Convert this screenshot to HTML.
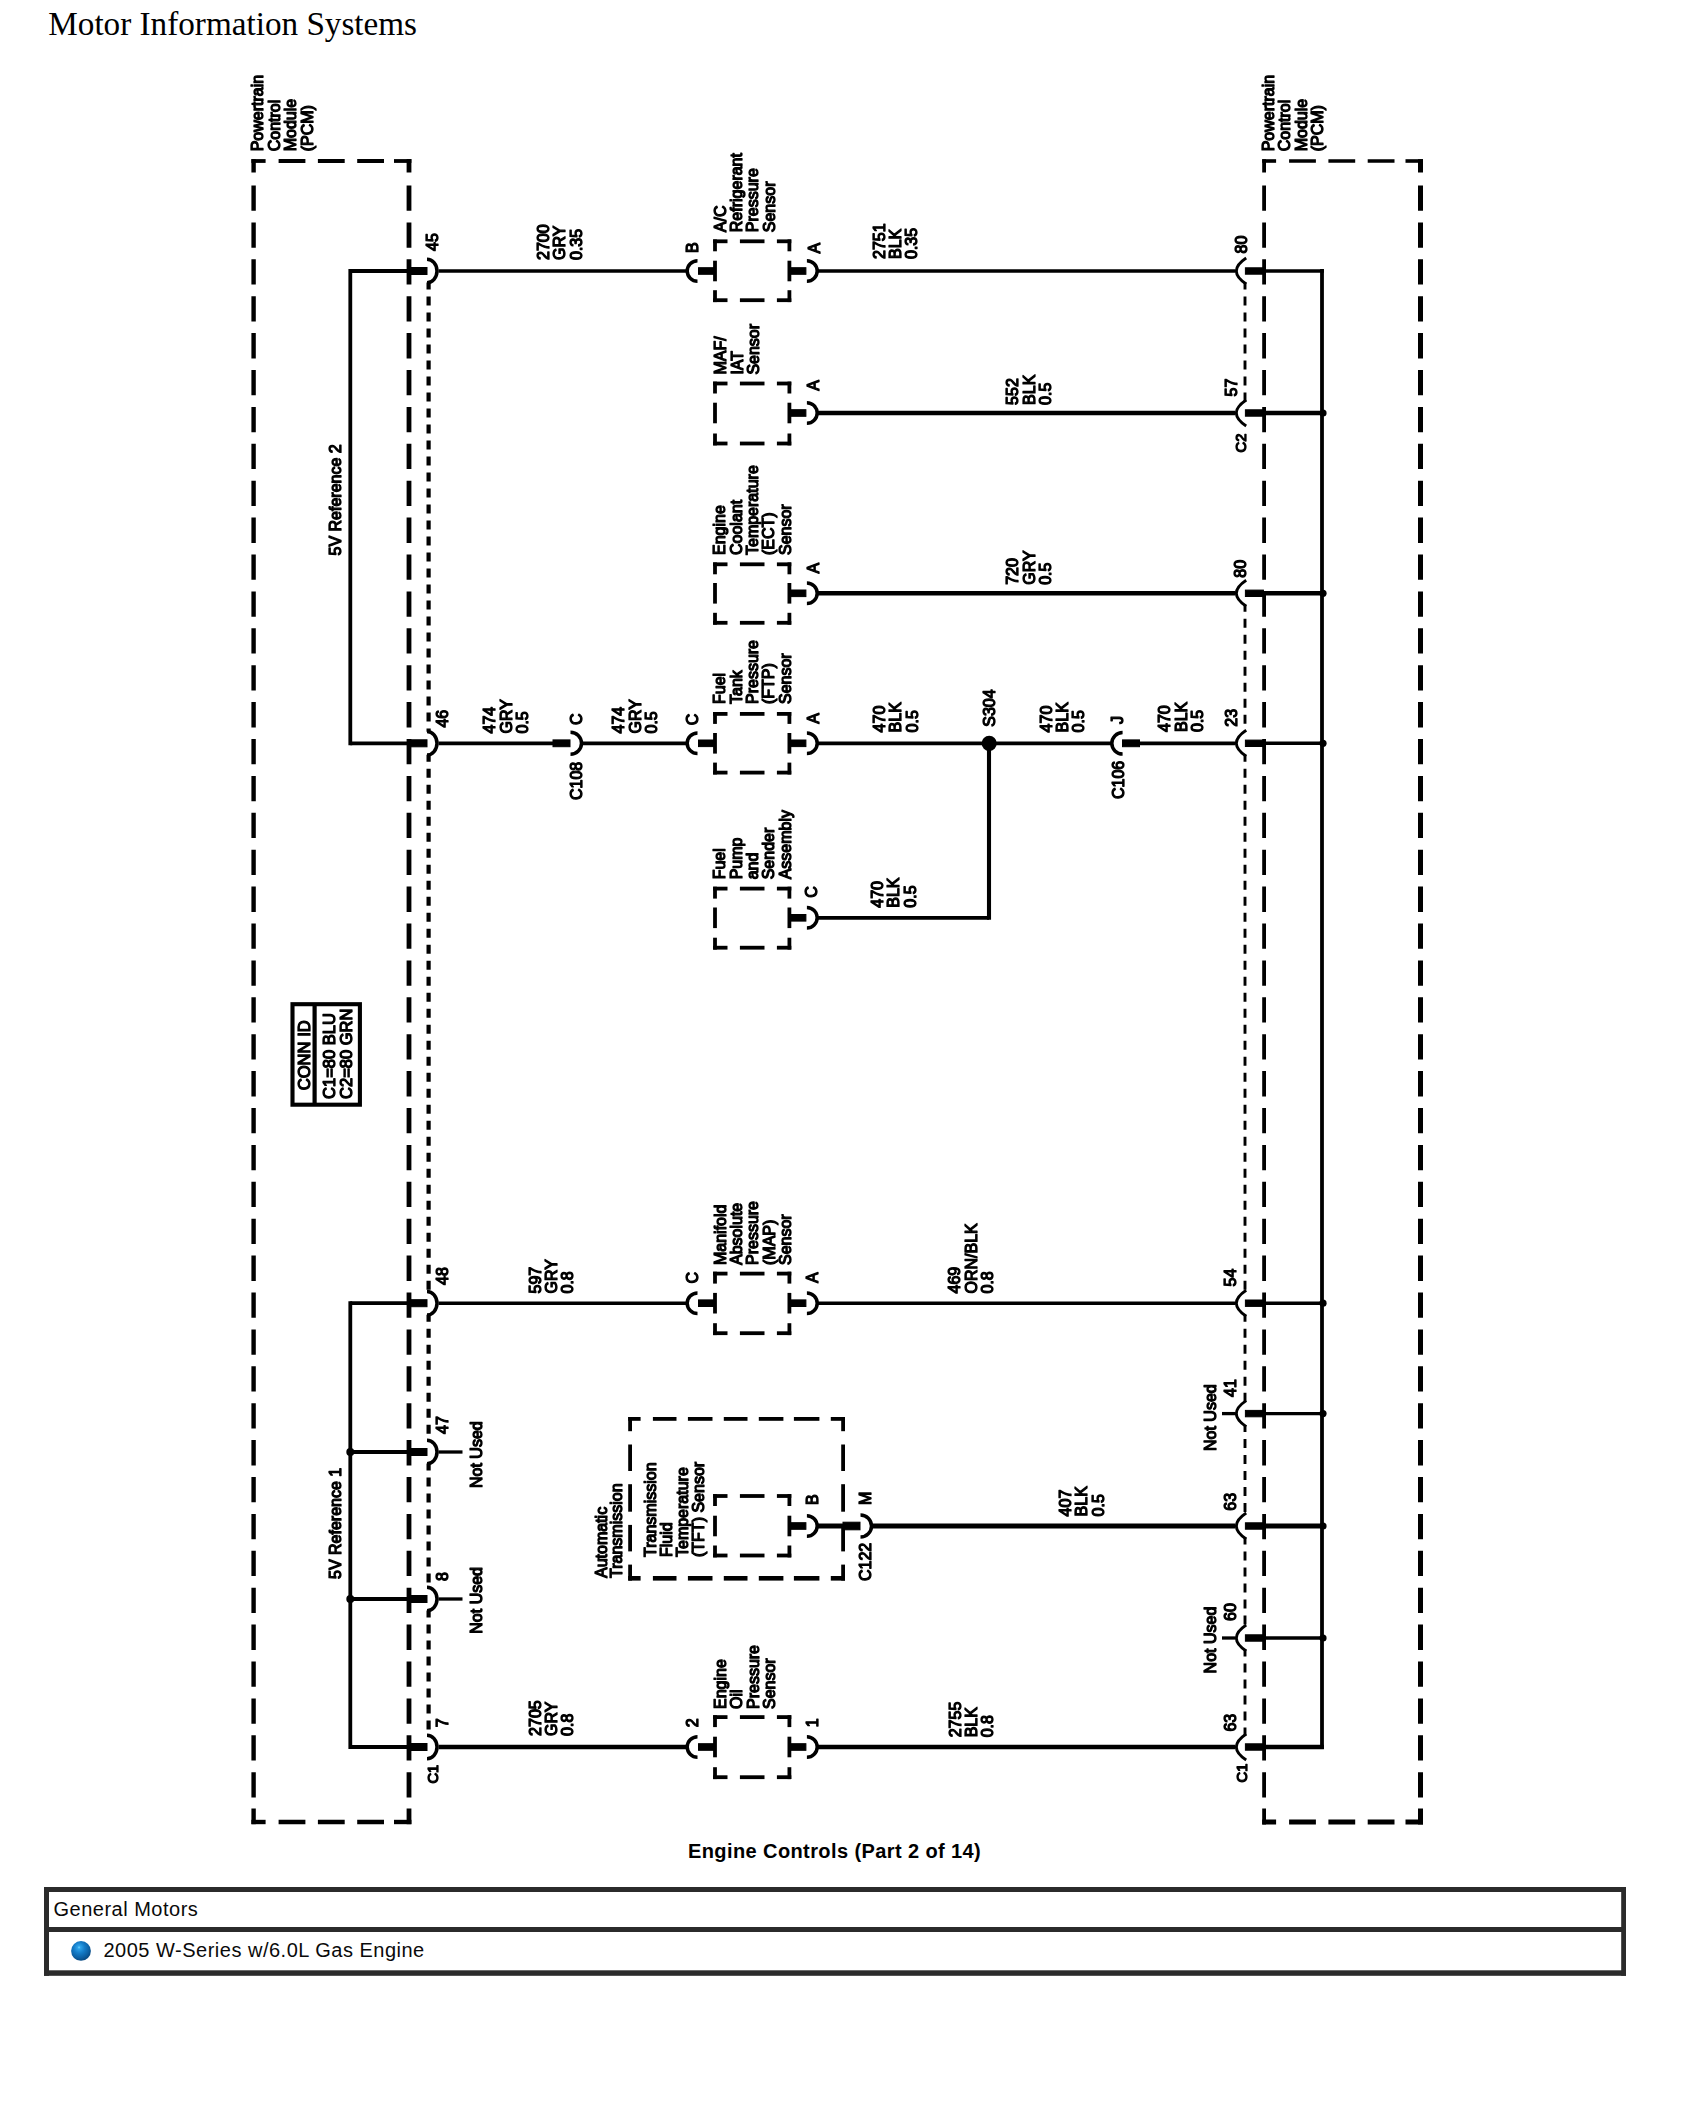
<!DOCTYPE html>
<html><head><meta charset="utf-8"><title>Engine Controls (Part 2 of 14)</title>
<style>
html,body{margin:0;padding:0;background:#fff;}
body{width:1691px;height:2125px;position:relative;overflow:hidden;font-family:"Liberation Sans",sans-serif;color:#000;}
svg{position:absolute;left:0;top:0;}
#dg line,#dg path,#dg rect{stroke:#000;}
#dg{filter:blur(0.45px);}
.t{font-family:"Liberation Sans",sans-serif;fill:#000;stroke:#000;stroke-width:1.25px;stroke-linejoin:round;}
.hd{font-family:"Liberation Serif",serif;font-size:33.2px;fill:#000;stroke:none;}
.cap{font-family:"Liberation Sans",sans-serif;font-weight:bold;font-size:20px;letter-spacing:0.4px;fill:#000;stroke:none;}
.tx{font-family:"Liberation Sans",sans-serif;font-size:20px;letter-spacing:0.5px;fill:#0a0a0a;stroke:none;}
</style></head><body>
<svg width="1691" height="2125" viewBox="0 0 1691 2125" fill="none">
<defs>
<radialGradient id="ball" cx="0.42" cy="0.36" r="0.62" fx="0.40" fy="0.32">
<stop offset="0" stop-color="#6fd6ff"/><stop offset="0.12" stop-color="#2ea3ea"/><stop offset="0.45" stop-color="#147cc8"/><stop offset="0.8" stop-color="#0c60a4"/><stop offset="1" stop-color="#084c86"/>
</radialGradient>
</defs>
<text class="hd" x="48.3" y="34.9">Motor Information Systems</text>
<g id="dg" stroke="#000">
<line x1="251.4" y1="161" x2="265.6" y2="161" stroke-width="3.8" stroke-linecap="butt"/>
<line x1="253.6" y1="159.1" x2="253.6" y2="172.5" stroke-width="4.4" stroke-linecap="butt"/>
<line x1="394" y1="161" x2="411.4" y2="161" stroke-width="3.8" stroke-linecap="butt"/>
<line x1="409" y1="159.1" x2="409" y2="172.5" stroke-width="4.8" stroke-linecap="butt"/>
<line x1="251.4" y1="1822" x2="265.6" y2="1822" stroke-width="4.4" stroke-linecap="butt"/>
<line x1="253.6" y1="1824.2" x2="253.6" y2="1808.5" stroke-width="4.4" stroke-linecap="butt"/>
<line x1="394" y1="1822" x2="411.4" y2="1822" stroke-width="4.4" stroke-linecap="butt"/>
<line x1="409" y1="1824.2" x2="409" y2="1808.5" stroke-width="4.8" stroke-linecap="butt"/>
<line x1="253.6" y1="185.5" x2="253.6" y2="1798" stroke-width="4.4" stroke-dasharray="25.3 11.6" stroke-dashoffset="0" stroke-linecap="butt"/>
<line x1="409" y1="185.5" x2="409" y2="1798" stroke-width="4.8" stroke-dasharray="25.3 11.6" stroke-dashoffset="0" stroke-linecap="butt"/>
<line x1="278.6" y1="161" x2="385" y2="161" stroke-width="3.8" stroke-dasharray="26.8 12.5" stroke-dashoffset="0" stroke-linecap="butt"/>
<line x1="278.6" y1="1822" x2="385" y2="1822" stroke-width="4.4" stroke-dasharray="26.8 12.5" stroke-dashoffset="0" stroke-linecap="butt"/>
<line x1="1262.1999999999998" y1="161" x2="1276.1" y2="161" stroke-width="3.6" stroke-linecap="butt"/>
<line x1="1264.1" y1="159.2" x2="1264.1" y2="172.5" stroke-width="3.8" stroke-linecap="butt"/>
<line x1="1405.5" y1="161" x2="1423.0" y2="161" stroke-width="3.6" stroke-linecap="butt"/>
<line x1="1420.5" y1="159.2" x2="1420.5" y2="172.5" stroke-width="5" stroke-linecap="butt"/>
<line x1="1262.1999999999998" y1="1822" x2="1276.1" y2="1822" stroke-width="5" stroke-linecap="butt"/>
<line x1="1264.1" y1="1824.5" x2="1264.1" y2="1808.5" stroke-width="3.8" stroke-linecap="butt"/>
<line x1="1405.5" y1="1822" x2="1423.0" y2="1822" stroke-width="5" stroke-linecap="butt"/>
<line x1="1420.5" y1="1824.5" x2="1420.5" y2="1808.5" stroke-width="5" stroke-linecap="butt"/>
<line x1="1264.1" y1="185.5" x2="1264.1" y2="1798" stroke-width="3.8" stroke-dasharray="25.3 11.6" stroke-dashoffset="0" stroke-linecap="butt"/>
<line x1="1420.5" y1="185.5" x2="1420.5" y2="1798" stroke-width="5" stroke-dasharray="25.3 11.6" stroke-dashoffset="0" stroke-linecap="butt"/>
<line x1="1289.1" y1="161" x2="1396.5" y2="161" stroke-width="3.6" stroke-dasharray="26.8 12.5" stroke-dashoffset="0" stroke-linecap="butt"/>
<line x1="1289.1" y1="1822" x2="1396.5" y2="1822" stroke-width="5" stroke-dasharray="26.8 12.5" stroke-dashoffset="0" stroke-linecap="butt"/>
<line x1="350.3" y1="269.1" x2="350.3" y2="745.1999999999999" stroke-width="3.8" stroke-linecap="butt"/>
<line x1="350.3" y1="271" x2="411" y2="271" stroke-width="3.8" stroke-linecap="butt"/>
<line x1="350.3" y1="743.3" x2="411" y2="743.3" stroke-width="3.8" stroke-linecap="butt"/>
<line x1="350.3" y1="1301.3" x2="350.3" y2="1748.9" stroke-width="3.8" stroke-linecap="butt"/>
<line x1="350.3" y1="1303.2" x2="411" y2="1303.2" stroke-width="3.8" stroke-linecap="butt"/>
<line x1="350.3" y1="1452" x2="411" y2="1452" stroke-width="3.8" stroke-linecap="butt"/>
<line x1="350.3" y1="1599" x2="411" y2="1599" stroke-width="3.8" stroke-linecap="butt"/>
<line x1="350.3" y1="1747" x2="411" y2="1747" stroke-width="3.8" stroke-linecap="butt"/>
<circle cx="350.3" cy="1452" r="4" fill="#000" stroke="none"/>
<circle cx="350.3" cy="1599" r="4" fill="#000" stroke="none"/>
<line x1="1322" y1="269.1" x2="1322" y2="1748.9" stroke-width="3.8" stroke-linecap="butt"/>
<line x1="1262" y1="271" x2="1323.9" y2="271" stroke-width="3.6" stroke-linecap="butt"/>
<line x1="1262" y1="413" x2="1322" y2="413" stroke-width="4.4" stroke-linecap="butt"/>
<line x1="1262" y1="593.3" x2="1322" y2="593.3" stroke-width="4.4" stroke-linecap="butt"/>
<line x1="1262" y1="743.3" x2="1322" y2="743.3" stroke-width="3.6" stroke-linecap="butt"/>
<line x1="1262" y1="1303.2" x2="1322" y2="1303.2" stroke-width="3.5" stroke-linecap="butt"/>
<line x1="1262" y1="1413.6" x2="1322" y2="1413.6" stroke-width="3.4" stroke-linecap="butt"/>
<line x1="1262" y1="1526" x2="1322" y2="1526" stroke-width="4.8" stroke-linecap="butt"/>
<line x1="1262" y1="1638" x2="1322" y2="1638" stroke-width="3.4" stroke-linecap="butt"/>
<line x1="1262" y1="1747" x2="1323.9" y2="1747" stroke-width="4.6" stroke-linecap="butt"/>
<circle cx="1323" cy="413" r="3.6" fill="#000" stroke="none"/>
<circle cx="1323" cy="593.3" r="3.6" fill="#000" stroke="none"/>
<circle cx="1323" cy="743.3" r="3.6" fill="#000" stroke="none"/>
<circle cx="1323" cy="1303.2" r="3.6" fill="#000" stroke="none"/>
<circle cx="1323" cy="1413.6" r="3.6" fill="#000" stroke="none"/>
<circle cx="1323" cy="1526" r="3.6" fill="#000" stroke="none"/>
<circle cx="1323" cy="1638" r="3.6" fill="#000" stroke="none"/>
<rect x="409" y="267.5" width="18" height="7" fill="#000" stroke="none"/>
<path d="M427,259.2 A10,11.8 0 0 1 427,282.8" stroke-width="3.5" fill="none"/>
<rect x="409" y="739.8" width="18" height="7" fill="#000" stroke="none"/>
<path d="M427,731.5 A10,11.8 0 0 1 427,755.0999999999999" stroke-width="3.5" fill="none"/>
<rect x="409" y="1299.7" width="18" height="7" fill="#000" stroke="none"/>
<path d="M427,1291.4 A10,11.8 0 0 1 427,1315.0" stroke-width="3.5" fill="none"/>
<rect x="409" y="1448.5" width="18" height="7" fill="#000" stroke="none"/>
<path d="M427,1440.2 A10,11.8 0 0 1 427,1463.8" stroke-width="3.5" fill="none"/>
<rect x="409" y="1595.5" width="18" height="7" fill="#000" stroke="none"/>
<path d="M427,1587.2 A10,11.8 0 0 1 427,1610.8" stroke-width="3.5" fill="none"/>
<rect x="409" y="1743.5" width="18" height="7" fill="#000" stroke="none"/>
<path d="M427,1735.2 A10,11.8 0 0 1 427,1758.8" stroke-width="3.5" fill="none"/>
<rect x="1245.4" y="267.8" width="18" height="6.4" fill="#000" stroke="none"/>
<path d="M1246.2,258 Q1226.5,271 1246.2,284" stroke-width="2.9" fill="none"/>
<rect x="1245.4" y="409.8" width="18" height="6.4" fill="#000" stroke="none"/>
<path d="M1246.2,400 Q1226.5,413 1246.2,426" stroke-width="2.9" fill="none"/>
<rect x="1245.4" y="590.0999999999999" width="18" height="6.4" fill="#000" stroke="none"/>
<path d="M1246.2,580.3 Q1226.5,593.3 1246.2,606.3" stroke-width="2.9" fill="none"/>
<rect x="1245.4" y="740.0999999999999" width="18" height="6.4" fill="#000" stroke="none"/>
<path d="M1246.2,730.3 Q1226.5,743.3 1246.2,756.3" stroke-width="2.9" fill="none"/>
<rect x="1245.4" y="1300.0" width="18" height="6.4" fill="#000" stroke="none"/>
<path d="M1246.2,1290.2 Q1226.5,1303.2 1246.2,1316.2" stroke-width="2.9" fill="none"/>
<rect x="1245.4" y="1410.3999999999999" width="18" height="6.4" fill="#000" stroke="none"/>
<path d="M1246.2,1400.6 Q1226.5,1413.6 1246.2,1426.6" stroke-width="2.9" fill="none"/>
<rect x="1245.4" y="1522.8" width="18" height="6.4" fill="#000" stroke="none"/>
<path d="M1246.2,1513 Q1226.5,1526 1246.2,1539" stroke-width="2.9" fill="none"/>
<rect x="1245.4" y="1634.8" width="18" height="6.4" fill="#000" stroke="none"/>
<path d="M1246.2,1625 Q1226.5,1638 1246.2,1651" stroke-width="2.9" fill="none"/>
<rect x="1245.4" y="1743.8" width="18" height="6.4" fill="#000" stroke="none"/>
<path d="M1246.2,1734 Q1226.5,1747 1246.2,1760" stroke-width="2.9" fill="none"/>
<line x1="428.6" y1="282.5" x2="428.6" y2="731.8" stroke-width="4.2" stroke-dasharray="9 7" stroke-dashoffset="2" stroke-linecap="butt"/>
<line x1="428.6" y1="754.8" x2="428.6" y2="1291.7" stroke-width="4.2" stroke-dasharray="9 7" stroke-dashoffset="2" stroke-linecap="butt"/>
<line x1="428.6" y1="1314.7" x2="428.6" y2="1440.5" stroke-width="4.2" stroke-dasharray="9 7" stroke-dashoffset="2" stroke-linecap="butt"/>
<line x1="428.6" y1="1463.5" x2="428.6" y2="1587.5" stroke-width="4.2" stroke-dasharray="9 7" stroke-dashoffset="2" stroke-linecap="butt"/>
<line x1="428.6" y1="1610.5" x2="428.6" y2="1735.5" stroke-width="4.2" stroke-dasharray="9 7" stroke-dashoffset="2" stroke-linecap="butt"/>
<line x1="1245" y1="282.5" x2="1245" y2="401.5" stroke-width="2.9" stroke-dasharray="9 7" stroke-dashoffset="2" stroke-linecap="butt"/>
<line x1="1245" y1="604.8" x2="1245" y2="731.8" stroke-width="2.9" stroke-dasharray="9 7" stroke-dashoffset="2" stroke-linecap="butt"/>
<line x1="1245" y1="754.8" x2="1245" y2="1291.7" stroke-width="2.9" stroke-dasharray="9 7" stroke-dashoffset="2" stroke-linecap="butt"/>
<line x1="1245" y1="1314.7" x2="1245" y2="1402.1" stroke-width="2.9" stroke-dasharray="9 7" stroke-dashoffset="2" stroke-linecap="butt"/>
<line x1="1245" y1="1425.1" x2="1245" y2="1514.5" stroke-width="2.9" stroke-dasharray="9 7" stroke-dashoffset="2" stroke-linecap="butt"/>
<line x1="1245" y1="1537.5" x2="1245" y2="1626.5" stroke-width="2.9" stroke-dasharray="9 7" stroke-dashoffset="2" stroke-linecap="butt"/>
<line x1="1245" y1="1649.5" x2="1245" y2="1735.5" stroke-width="2.9" stroke-dasharray="9 7" stroke-dashoffset="2" stroke-linecap="butt"/>
<line x1="713.1" y1="241.3" x2="727.5" y2="241.3" stroke-width="3.8" stroke-linecap="butt"/>
<line x1="715" y1="239.4" x2="715" y2="251.3" stroke-width="3.8" stroke-linecap="butt"/>
<line x1="713.1" y1="300.2" x2="727.5" y2="300.2" stroke-width="3.8" stroke-linecap="butt"/>
<line x1="715" y1="302.09999999999997" x2="715" y2="290.2" stroke-width="3.8" stroke-linecap="butt"/>
<line x1="791.3" y1="241.3" x2="776.9" y2="241.3" stroke-width="3.8" stroke-linecap="butt"/>
<line x1="789.4" y1="239.4" x2="789.4" y2="251.3" stroke-width="3.8" stroke-linecap="butt"/>
<line x1="791.3" y1="300.2" x2="776.9" y2="300.2" stroke-width="3.8" stroke-linecap="butt"/>
<line x1="789.4" y1="302.09999999999997" x2="789.4" y2="290.2" stroke-width="3.8" stroke-linecap="butt"/>
<line x1="739.9000000000001" y1="241.3" x2="764.5" y2="241.3" stroke-width="3.8" stroke-linecap="butt"/>
<line x1="739.9000000000001" y1="300.2" x2="764.5" y2="300.2" stroke-width="3.8" stroke-linecap="butt"/>
<line x1="715" y1="260.7" x2="715" y2="281.3" stroke-width="3.8" stroke-linecap="butt"/>
<rect x="698.5" y="267.7" width="16.5" height="6.6" fill="#000" stroke="none"/>
<path d="M697.5,260.7 A10.3,10.3 0 0 0 697.5,281.3" stroke-width="3.5" fill="none"/>
<line x1="789.4" y1="260.7" x2="789.4" y2="281.3" stroke-width="3.8" stroke-linecap="butt"/>
<rect x="789.4" y="267.7" width="16.5" height="6.6" fill="#000" stroke="none"/>
<path d="M806.9,260.7 A10.3,10.3 0 0 1 806.9,281.3" stroke-width="3.5" fill="none"/>
<line x1="713.1" y1="383.5" x2="727.5" y2="383.5" stroke-width="3.8" stroke-linecap="butt"/>
<line x1="715" y1="381.6" x2="715" y2="393.5" stroke-width="3.8" stroke-linecap="butt"/>
<line x1="713.1" y1="443.5" x2="727.5" y2="443.5" stroke-width="3.8" stroke-linecap="butt"/>
<line x1="715" y1="445.4" x2="715" y2="433.5" stroke-width="3.8" stroke-linecap="butt"/>
<line x1="791.3" y1="383.5" x2="776.9" y2="383.5" stroke-width="3.8" stroke-linecap="butt"/>
<line x1="789.4" y1="381.6" x2="789.4" y2="393.5" stroke-width="3.8" stroke-linecap="butt"/>
<line x1="791.3" y1="443.5" x2="776.9" y2="443.5" stroke-width="3.8" stroke-linecap="butt"/>
<line x1="789.4" y1="445.4" x2="789.4" y2="433.5" stroke-width="3.8" stroke-linecap="butt"/>
<line x1="739.9000000000001" y1="383.5" x2="764.5" y2="383.5" stroke-width="3.8" stroke-linecap="butt"/>
<line x1="739.9000000000001" y1="443.5" x2="764.5" y2="443.5" stroke-width="3.8" stroke-linecap="butt"/>
<line x1="715" y1="402.7" x2="715" y2="423.3" stroke-width="3.8" stroke-linecap="butt"/>
<line x1="789.4" y1="402.7" x2="789.4" y2="423.3" stroke-width="3.8" stroke-linecap="butt"/>
<rect x="789.4" y="409.7" width="16.5" height="6.6" fill="#000" stroke="none"/>
<path d="M806.9,402.7 A10.3,10.3 0 0 1 806.9,423.3" stroke-width="3.5" fill="none"/>
<line x1="713.1" y1="564.3" x2="727.5" y2="564.3" stroke-width="3.8" stroke-linecap="butt"/>
<line x1="715" y1="562.4" x2="715" y2="574.3" stroke-width="3.8" stroke-linecap="butt"/>
<line x1="713.1" y1="622.8" x2="727.5" y2="622.8" stroke-width="3.8" stroke-linecap="butt"/>
<line x1="715" y1="624.6999999999999" x2="715" y2="612.8" stroke-width="3.8" stroke-linecap="butt"/>
<line x1="791.3" y1="564.3" x2="776.9" y2="564.3" stroke-width="3.8" stroke-linecap="butt"/>
<line x1="789.4" y1="562.4" x2="789.4" y2="574.3" stroke-width="3.8" stroke-linecap="butt"/>
<line x1="791.3" y1="622.8" x2="776.9" y2="622.8" stroke-width="3.8" stroke-linecap="butt"/>
<line x1="789.4" y1="624.6999999999999" x2="789.4" y2="612.8" stroke-width="3.8" stroke-linecap="butt"/>
<line x1="739.9000000000001" y1="564.3" x2="764.5" y2="564.3" stroke-width="3.8" stroke-linecap="butt"/>
<line x1="739.9000000000001" y1="622.8" x2="764.5" y2="622.8" stroke-width="3.8" stroke-linecap="butt"/>
<line x1="715" y1="583.0" x2="715" y2="603.5999999999999" stroke-width="3.8" stroke-linecap="butt"/>
<line x1="789.4" y1="583.0" x2="789.4" y2="603.5999999999999" stroke-width="3.8" stroke-linecap="butt"/>
<rect x="789.4" y="590.0" width="16.5" height="6.6" fill="#000" stroke="none"/>
<path d="M806.9,583.0 A10.3,10.3 0 0 1 806.9,603.5999999999999" stroke-width="3.5" fill="none"/>
<line x1="713.1" y1="713.9" x2="727.5" y2="713.9" stroke-width="3.8" stroke-linecap="butt"/>
<line x1="715" y1="712.0" x2="715" y2="723.9" stroke-width="3.8" stroke-linecap="butt"/>
<line x1="713.1" y1="772.6" x2="727.5" y2="772.6" stroke-width="3.8" stroke-linecap="butt"/>
<line x1="715" y1="774.5" x2="715" y2="762.6" stroke-width="3.8" stroke-linecap="butt"/>
<line x1="791.3" y1="713.9" x2="776.9" y2="713.9" stroke-width="3.8" stroke-linecap="butt"/>
<line x1="789.4" y1="712.0" x2="789.4" y2="723.9" stroke-width="3.8" stroke-linecap="butt"/>
<line x1="791.3" y1="772.6" x2="776.9" y2="772.6" stroke-width="3.8" stroke-linecap="butt"/>
<line x1="789.4" y1="774.5" x2="789.4" y2="762.6" stroke-width="3.8" stroke-linecap="butt"/>
<line x1="739.9000000000001" y1="713.9" x2="764.5" y2="713.9" stroke-width="3.8" stroke-linecap="butt"/>
<line x1="739.9000000000001" y1="772.6" x2="764.5" y2="772.6" stroke-width="3.8" stroke-linecap="butt"/>
<line x1="715" y1="733.0" x2="715" y2="753.5999999999999" stroke-width="3.8" stroke-linecap="butt"/>
<rect x="698.5" y="740.0" width="16.5" height="6.6" fill="#000" stroke="none"/>
<path d="M697.5,733.0 A10.3,10.3 0 0 0 697.5,753.5999999999999" stroke-width="3.5" fill="none"/>
<line x1="789.4" y1="733.0" x2="789.4" y2="753.5999999999999" stroke-width="3.8" stroke-linecap="butt"/>
<rect x="789.4" y="740.0" width="16.5" height="6.6" fill="#000" stroke="none"/>
<path d="M806.9,733.0 A10.3,10.3 0 0 1 806.9,753.5999999999999" stroke-width="3.5" fill="none"/>
<line x1="713.1" y1="888.6" x2="727.5" y2="888.6" stroke-width="3.8" stroke-linecap="butt"/>
<line x1="715" y1="886.7" x2="715" y2="898.6" stroke-width="3.8" stroke-linecap="butt"/>
<line x1="713.1" y1="947.7" x2="727.5" y2="947.7" stroke-width="3.8" stroke-linecap="butt"/>
<line x1="715" y1="949.6" x2="715" y2="937.7" stroke-width="3.8" stroke-linecap="butt"/>
<line x1="791.3" y1="888.6" x2="776.9" y2="888.6" stroke-width="3.8" stroke-linecap="butt"/>
<line x1="789.4" y1="886.7" x2="789.4" y2="898.6" stroke-width="3.8" stroke-linecap="butt"/>
<line x1="791.3" y1="947.7" x2="776.9" y2="947.7" stroke-width="3.8" stroke-linecap="butt"/>
<line x1="789.4" y1="949.6" x2="789.4" y2="937.7" stroke-width="3.8" stroke-linecap="butt"/>
<line x1="739.9000000000001" y1="888.6" x2="764.5" y2="888.6" stroke-width="3.8" stroke-linecap="butt"/>
<line x1="739.9000000000001" y1="947.7" x2="764.5" y2="947.7" stroke-width="3.8" stroke-linecap="butt"/>
<line x1="715" y1="907.5" x2="715" y2="928.0999999999999" stroke-width="3.8" stroke-linecap="butt"/>
<line x1="789.4" y1="907.5" x2="789.4" y2="928.0999999999999" stroke-width="3.8" stroke-linecap="butt"/>
<rect x="789.4" y="914.5" width="16.5" height="6.6" fill="#000" stroke="none"/>
<path d="M806.9,907.5 A10.3,10.3 0 0 1 806.9,928.0999999999999" stroke-width="3.5" fill="none"/>
<line x1="713.1" y1="1273.6" x2="727.5" y2="1273.6" stroke-width="3.8" stroke-linecap="butt"/>
<line x1="715" y1="1271.6999999999998" x2="715" y2="1283.6" stroke-width="3.8" stroke-linecap="butt"/>
<line x1="713.1" y1="1333.2" x2="727.5" y2="1333.2" stroke-width="3.8" stroke-linecap="butt"/>
<line x1="715" y1="1335.1000000000001" x2="715" y2="1323.2" stroke-width="3.8" stroke-linecap="butt"/>
<line x1="791.3" y1="1273.6" x2="776.9" y2="1273.6" stroke-width="3.8" stroke-linecap="butt"/>
<line x1="789.4" y1="1271.6999999999998" x2="789.4" y2="1283.6" stroke-width="3.8" stroke-linecap="butt"/>
<line x1="791.3" y1="1333.2" x2="776.9" y2="1333.2" stroke-width="3.8" stroke-linecap="butt"/>
<line x1="789.4" y1="1335.1000000000001" x2="789.4" y2="1323.2" stroke-width="3.8" stroke-linecap="butt"/>
<line x1="739.9000000000001" y1="1273.6" x2="764.5" y2="1273.6" stroke-width="3.8" stroke-linecap="butt"/>
<line x1="739.9000000000001" y1="1333.2" x2="764.5" y2="1333.2" stroke-width="3.8" stroke-linecap="butt"/>
<line x1="715" y1="1292.9" x2="715" y2="1313.5" stroke-width="3.8" stroke-linecap="butt"/>
<rect x="698.5" y="1299.9" width="16.5" height="6.6" fill="#000" stroke="none"/>
<path d="M697.5,1292.9 A10.3,10.3 0 0 0 697.5,1313.5" stroke-width="3.5" fill="none"/>
<line x1="789.4" y1="1292.9" x2="789.4" y2="1313.5" stroke-width="3.8" stroke-linecap="butt"/>
<rect x="789.4" y="1299.9" width="16.5" height="6.6" fill="#000" stroke="none"/>
<path d="M806.9,1292.9 A10.3,10.3 0 0 1 806.9,1313.5" stroke-width="3.5" fill="none"/>
<line x1="713.1" y1="1496" x2="727.5" y2="1496" stroke-width="3.8" stroke-linecap="butt"/>
<line x1="715" y1="1494.1" x2="715" y2="1506.0" stroke-width="3.8" stroke-linecap="butt"/>
<line x1="713.1" y1="1555.5" x2="727.5" y2="1555.5" stroke-width="3.8" stroke-linecap="butt"/>
<line x1="715" y1="1557.4" x2="715" y2="1545.5" stroke-width="3.8" stroke-linecap="butt"/>
<line x1="791.3" y1="1496" x2="776.9" y2="1496" stroke-width="3.8" stroke-linecap="butt"/>
<line x1="789.4" y1="1494.1" x2="789.4" y2="1506.0" stroke-width="3.8" stroke-linecap="butt"/>
<line x1="791.3" y1="1555.5" x2="776.9" y2="1555.5" stroke-width="3.8" stroke-linecap="butt"/>
<line x1="789.4" y1="1557.4" x2="789.4" y2="1545.5" stroke-width="3.8" stroke-linecap="butt"/>
<line x1="739.9000000000001" y1="1496" x2="764.5" y2="1496" stroke-width="3.8" stroke-linecap="butt"/>
<line x1="739.9000000000001" y1="1555.5" x2="764.5" y2="1555.5" stroke-width="3.8" stroke-linecap="butt"/>
<line x1="715" y1="1515.7" x2="715" y2="1536.3" stroke-width="3.8" stroke-linecap="butt"/>
<line x1="789.4" y1="1515.7" x2="789.4" y2="1536.3" stroke-width="3.8" stroke-linecap="butt"/>
<rect x="789.4" y="1522.7" width="16.5" height="6.6" fill="#000" stroke="none"/>
<path d="M806.9,1515.7 A10.3,10.3 0 0 1 806.9,1536.3" stroke-width="3.5" fill="none"/>
<line x1="713.1" y1="1717.1" x2="727.5" y2="1717.1" stroke-width="3.8" stroke-linecap="butt"/>
<line x1="715" y1="1715.1999999999998" x2="715" y2="1727.1" stroke-width="3.8" stroke-linecap="butt"/>
<line x1="713.1" y1="1777.2" x2="727.5" y2="1777.2" stroke-width="3.8" stroke-linecap="butt"/>
<line x1="715" y1="1779.1000000000001" x2="715" y2="1767.2" stroke-width="3.8" stroke-linecap="butt"/>
<line x1="791.3" y1="1717.1" x2="776.9" y2="1717.1" stroke-width="3.8" stroke-linecap="butt"/>
<line x1="789.4" y1="1715.1999999999998" x2="789.4" y2="1727.1" stroke-width="3.8" stroke-linecap="butt"/>
<line x1="791.3" y1="1777.2" x2="776.9" y2="1777.2" stroke-width="3.8" stroke-linecap="butt"/>
<line x1="789.4" y1="1779.1000000000001" x2="789.4" y2="1767.2" stroke-width="3.8" stroke-linecap="butt"/>
<line x1="739.9000000000001" y1="1717.1" x2="764.5" y2="1717.1" stroke-width="3.8" stroke-linecap="butt"/>
<line x1="739.9000000000001" y1="1777.2" x2="764.5" y2="1777.2" stroke-width="3.8" stroke-linecap="butt"/>
<line x1="715" y1="1736.7" x2="715" y2="1757.3" stroke-width="3.8" stroke-linecap="butt"/>
<rect x="698.5" y="1743.7" width="16.5" height="6.6" fill="#000" stroke="none"/>
<path d="M697.5,1736.7 A10.3,10.3 0 0 0 697.5,1757.3" stroke-width="3.5" fill="none"/>
<line x1="789.4" y1="1736.7" x2="789.4" y2="1757.3" stroke-width="3.8" stroke-linecap="butt"/>
<rect x="789.4" y="1743.7" width="16.5" height="6.6" fill="#000" stroke="none"/>
<path d="M806.9,1736.7 A10.3,10.3 0 0 1 806.9,1757.3" stroke-width="3.5" fill="none"/>
<line x1="628.2" y1="1418.9" x2="640.6" y2="1418.9" stroke-width="3.8" stroke-linecap="butt"/>
<line x1="830.8" y1="1418.9" x2="845.0" y2="1418.9" stroke-width="3.8" stroke-linecap="butt"/>
<line x1="628.2" y1="1578.3" x2="640.6" y2="1578.3" stroke-width="4.6" stroke-linecap="butt"/>
<line x1="830.8" y1="1578.3" x2="845.0" y2="1578.3" stroke-width="4.6" stroke-linecap="butt"/>
<line x1="630.1" y1="1417.0" x2="630.1" y2="1431.2" stroke-width="3.8" stroke-linecap="butt"/>
<line x1="630.1" y1="1564.6" x2="630.1" y2="1580.6" stroke-width="3.8" stroke-linecap="butt"/>
<line x1="630.1" y1="1444.5" x2="630.1" y2="1471" stroke-width="3.8" stroke-linecap="butt"/>
<line x1="630.1" y1="1484.2" x2="630.1" y2="1511.7" stroke-width="3.8" stroke-linecap="butt"/>
<line x1="630.1" y1="1524.9" x2="630.1" y2="1551.4" stroke-width="3.8" stroke-linecap="butt"/>
<line x1="843.1" y1="1417.0" x2="843.1" y2="1431.2" stroke-width="3.8" stroke-linecap="butt"/>
<line x1="843.1" y1="1564.6" x2="843.1" y2="1580.6" stroke-width="3.8" stroke-linecap="butt"/>
<line x1="843.1" y1="1444.5" x2="843.1" y2="1471" stroke-width="3.8" stroke-linecap="butt"/>
<line x1="843.1" y1="1484.2" x2="843.1" y2="1511.7" stroke-width="3.8" stroke-linecap="butt"/>
<line x1="843.1" y1="1524.9" x2="843.1" y2="1551.4" stroke-width="3.8" stroke-linecap="butt"/>
<line x1="652.9" y1="1418.9" x2="676.5" y2="1418.9" stroke-width="3.8" stroke-linecap="butt"/>
<line x1="652.9" y1="1578.3" x2="676.5" y2="1578.3" stroke-width="4.6" stroke-linecap="butt"/>
<line x1="687.9" y1="1418.9" x2="712.5" y2="1418.9" stroke-width="3.8" stroke-linecap="butt"/>
<line x1="687.9" y1="1578.3" x2="712.5" y2="1578.3" stroke-width="4.6" stroke-linecap="butt"/>
<line x1="723.8" y1="1418.9" x2="747.5" y2="1418.9" stroke-width="3.8" stroke-linecap="butt"/>
<line x1="723.8" y1="1578.3" x2="747.5" y2="1578.3" stroke-width="4.6" stroke-linecap="butt"/>
<line x1="758.8" y1="1418.9" x2="783.4" y2="1418.9" stroke-width="3.8" stroke-linecap="butt"/>
<line x1="758.8" y1="1578.3" x2="783.4" y2="1578.3" stroke-width="4.6" stroke-linecap="butt"/>
<line x1="793.9" y1="1418.9" x2="819.4" y2="1418.9" stroke-width="3.8" stroke-linecap="butt"/>
<line x1="793.9" y1="1578.3" x2="819.4" y2="1578.3" stroke-width="4.6" stroke-linecap="butt"/>
<line x1="438.5" y1="271" x2="686.3" y2="271" stroke-width="3.6" stroke-linecap="butt"/>
<line x1="818" y1="271" x2="1235.5" y2="271" stroke-width="3.6" stroke-linecap="butt"/>
<line x1="818" y1="413" x2="1235.5" y2="413" stroke-width="4.4" stroke-linecap="butt"/>
<line x1="818" y1="593.3" x2="1235.5" y2="593.3" stroke-width="4.4" stroke-linecap="butt"/>
<line x1="438.5" y1="743.3" x2="553" y2="743.3" stroke-width="3.8" stroke-linecap="butt"/>
<rect x="553" y="739.9" width="17" height="6.8" fill="#000" stroke="none"/>
<path d="M570.5,732.3 A11,11 0 0 1 570.5,754.3" stroke-width="3.5" fill="none"/>
<line x1="581.5" y1="743.3" x2="686.3" y2="743.3" stroke-width="3.8" stroke-linecap="butt"/>
<line x1="818" y1="743.3" x2="1111.5" y2="743.3" stroke-width="3.8" stroke-linecap="butt"/>
<path d="M1122.6,732.5 A10.8,10.8 0 0 0 1122.6,754.0999999999999" stroke-width="3.5" fill="none"/>
<rect x="1122.5" y="739.9" width="17" height="6.8" fill="#000" stroke="none"/>
<line x1="1139" y1="743.3" x2="1235.5" y2="743.3" stroke-width="3.8" stroke-linecap="butt"/>
<circle cx="989.2" cy="743.3" r="7.6" fill="#000" stroke="none"/>
<line x1="989" y1="743.3" x2="989" y2="919.6999999999999" stroke-width="4.1" stroke-linecap="butt"/>
<line x1="818" y1="917.8" x2="989" y2="917.8" stroke-width="3.7" stroke-linecap="butt"/>
<line x1="438.5" y1="1303.2" x2="686.3" y2="1303.2" stroke-width="3.5" stroke-linecap="butt"/>
<line x1="818" y1="1303.2" x2="1235.5" y2="1303.2" stroke-width="3.5" stroke-linecap="butt"/>
<line x1="438.5" y1="1452" x2="462.5" y2="1452" stroke-width="3.3" stroke-linecap="butt"/>
<line x1="438.5" y1="1599" x2="462.5" y2="1599" stroke-width="3.3" stroke-linecap="butt"/>
<line x1="1222" y1="1413.6" x2="1235.5" y2="1413.6" stroke-width="3.3" stroke-linecap="butt"/>
<line x1="1222" y1="1638" x2="1235.5" y2="1638" stroke-width="3.3" stroke-linecap="butt"/>
<line x1="818" y1="1526" x2="845" y2="1526" stroke-width="5" stroke-linecap="butt"/>
<rect x="843" y="1522.2" width="17" height="7.6" fill="#000" stroke="none"/>
<path d="M860.5,1515 A11,11 0 0 1 860.5,1537" stroke-width="3.5" fill="none"/>
<line x1="870.5" y1="1526" x2="1235.5" y2="1526" stroke-width="4.8" stroke-linecap="butt"/>
<line x1="438.5" y1="1747" x2="686.3" y2="1747" stroke-width="4.5" stroke-linecap="butt"/>
<line x1="818" y1="1747" x2="1235.5" y2="1747" stroke-width="4.6" stroke-linecap="butt"/>
<rect x="292.5" y="1004.2" width="67.4" height="100.5" fill="none" stroke-width="4.1"/>
<line x1="314.6" y1="1004.2" x2="314.6" y2="1104.7" stroke-width="4.2" stroke-linecap="butt"/>
<text class="t" transform="translate(263.3,151.3) rotate(-90)" font-size="16.0">Powertrain</text>
<text class="t" transform="translate(279.7,151.3) rotate(-90)" font-size="16.0">Control</text>
<text class="t" transform="translate(296.1,151.3) rotate(-90)" font-size="16.0">Module</text>
<text class="t" transform="translate(312.5,151.3) rotate(-90)" font-size="16.0">(PCM)</text>
<text class="t" transform="translate(1273.8,151.3) rotate(-90)" font-size="16.0">Powertrain</text>
<text class="t" transform="translate(1290.2,151.3) rotate(-90)" font-size="16.0">Control</text>
<text class="t" transform="translate(1306.6,151.3) rotate(-90)" font-size="16.0">Module</text>
<text class="t" transform="translate(1323.0,151.3) rotate(-90)" font-size="16.0">(PCM)</text>
<text class="t" transform="translate(438.2,251.0) rotate(-90)" font-size="16.0">45</text>
<text class="t" transform="translate(448.2,727.6) rotate(-90)" font-size="16.0">46</text>
<text class="t" transform="translate(448.4,1285.0) rotate(-90)" font-size="16.0">48</text>
<text class="t" transform="translate(448.2,1434.0) rotate(-90)" font-size="16.0">47</text>
<text class="t" transform="translate(448.2,1581.0) rotate(-90)" font-size="16.0">8</text>
<text class="t" transform="translate(448.2,1727.3) rotate(-90)" font-size="16.0">7</text>
<text class="t" transform="translate(438.2,1783.6) rotate(-90)" font-size="14.8">C1</text>
<text class="t" transform="translate(482.0,1488.0) rotate(-90)" font-size="16.0">Not Used</text>
<text class="t" transform="translate(482.0,1633.7) rotate(-90)" font-size="16.0">Not Used</text>
<text class="t" transform="translate(1246.6,253.5) rotate(-90)" font-size="16.0">80</text>
<text class="t" transform="translate(1237.0,396.4) rotate(-90)" font-size="16.0">57</text>
<text class="t" transform="translate(1246.4,452.4) rotate(-90)" font-size="14.8">C2</text>
<text class="t" transform="translate(1246.4,577.7) rotate(-90)" font-size="16.0">80</text>
<text class="t" transform="translate(1237.0,726.7) rotate(-90)" font-size="16.0">23</text>
<text class="t" transform="translate(1235.6,1286.4) rotate(-90)" font-size="16.0">54</text>
<text class="t" transform="translate(1235.6,1397.0) rotate(-90)" font-size="16.0">41</text>
<text class="t" transform="translate(1215.7,1451.0) rotate(-90)" font-size="16.0">Not Used</text>
<text class="t" transform="translate(1235.6,1510.7) rotate(-90)" font-size="16.0">63</text>
<text class="t" transform="translate(1235.6,1621.0) rotate(-90)" font-size="16.0">60</text>
<text class="t" transform="translate(1215.7,1673.4) rotate(-90)" font-size="16.0">Not Used</text>
<text class="t" transform="translate(1235.6,1731.6) rotate(-90)" font-size="16.0">63</text>
<text class="t" transform="translate(1246.6,1782.5) rotate(-90)" font-size="14.8">C1</text>
<text class="t" transform="translate(549.0,260.0) rotate(-90)" font-size="16.0">2700</text>
<text class="t" transform="translate(565.4,260.0) rotate(-90)" font-size="16.0">GRY</text>
<text class="t" transform="translate(581.8,260.0) rotate(-90)" font-size="16.0">0.35</text>
<text class="t" transform="translate(884.5,259.0) rotate(-90)" font-size="16.0">2751</text>
<text class="t" transform="translate(900.9,259.0) rotate(-90)" font-size="16.0">BLK</text>
<text class="t" transform="translate(917.3,259.0) rotate(-90)" font-size="16.0">0.35</text>
<text class="t" transform="translate(1018.4,404.9) rotate(-90)" font-size="16.0">552</text>
<text class="t" transform="translate(1034.8,404.9) rotate(-90)" font-size="16.0">BLK</text>
<text class="t" transform="translate(1051.2,404.9) rotate(-90)" font-size="16.0">0.5</text>
<text class="t" transform="translate(1018.4,584.8) rotate(-90)" font-size="16.0">720</text>
<text class="t" transform="translate(1034.8,584.8) rotate(-90)" font-size="16.0">GRY</text>
<text class="t" transform="translate(1051.2,584.8) rotate(-90)" font-size="16.0">0.5</text>
<text class="t" transform="translate(495.2,733.5) rotate(-90)" font-size="16.0">474</text>
<text class="t" transform="translate(511.6,733.5) rotate(-90)" font-size="16.0">GRY</text>
<text class="t" transform="translate(528.0,733.5) rotate(-90)" font-size="16.0">0.5</text>
<text class="t" transform="translate(581.8,725.0) rotate(-90)" font-size="16.0">C</text>
<text class="t" transform="translate(581.8,800.0) rotate(-90)" font-size="16.0">C108</text>
<text class="t" transform="translate(624.4,733.5) rotate(-90)" font-size="16.0">474</text>
<text class="t" transform="translate(640.8,733.5) rotate(-90)" font-size="16.0">GRY</text>
<text class="t" transform="translate(657.2,733.5) rotate(-90)" font-size="16.0">0.5</text>
<text class="t" transform="translate(884.7,732.4) rotate(-90)" font-size="16.0">470</text>
<text class="t" transform="translate(901.1,732.4) rotate(-90)" font-size="16.0">BLK</text>
<text class="t" transform="translate(917.5,732.4) rotate(-90)" font-size="16.0">0.5</text>
<text class="t" transform="translate(994.8,726.7) rotate(-90)" font-size="16.0">S304</text>
<text class="t" transform="translate(1051.6,732.4) rotate(-90)" font-size="16.0">470</text>
<text class="t" transform="translate(1068.0,732.4) rotate(-90)" font-size="16.0">BLK</text>
<text class="t" transform="translate(1084.4,732.4) rotate(-90)" font-size="16.0">0.5</text>
<text class="t" transform="translate(1122.6,723.9) rotate(-90)" font-size="16.0">J</text>
<text class="t" transform="translate(1123.5,799.0) rotate(-90)" font-size="16.0">C106</text>
<text class="t" transform="translate(1170.3,732.0) rotate(-90)" font-size="16.0">470</text>
<text class="t" transform="translate(1186.7,732.0) rotate(-90)" font-size="16.0">BLK</text>
<text class="t" transform="translate(1203.1,732.0) rotate(-90)" font-size="16.0">0.5</text>
<text class="t" transform="translate(882.7,907.7) rotate(-90)" font-size="16.0">470</text>
<text class="t" transform="translate(899.1,907.7) rotate(-90)" font-size="16.0">BLK</text>
<text class="t" transform="translate(915.5,907.7) rotate(-90)" font-size="16.0">0.5</text>
<text class="t" transform="translate(540.6,1293.5) rotate(-90)" font-size="16.0">597</text>
<text class="t" transform="translate(557.0,1293.5) rotate(-90)" font-size="16.0">GRY</text>
<text class="t" transform="translate(573.4,1293.5) rotate(-90)" font-size="16.0">0.8</text>
<text class="t" transform="translate(960.2,1293.5) rotate(-90)" font-size="16.0">469</text>
<text class="t" transform="translate(976.6,1293.5) rotate(-90)" font-size="16.0">ORN/BLK</text>
<text class="t" transform="translate(993.0,1293.5) rotate(-90)" font-size="16.0">0.8</text>
<text class="t" transform="translate(1071.0,1516.4) rotate(-90)" font-size="16.0">407</text>
<text class="t" transform="translate(1087.4,1516.4) rotate(-90)" font-size="16.0">BLK</text>
<text class="t" transform="translate(1103.8,1516.4) rotate(-90)" font-size="16.0">0.5</text>
<text class="t" transform="translate(870.8,1505.0) rotate(-90)" font-size="16.0">M</text>
<text class="t" transform="translate(871.0,1581.0) rotate(-90)" font-size="16.0">C122</text>
<text class="t" transform="translate(540.6,1735.9) rotate(-90)" font-size="16.0">2705</text>
<text class="t" transform="translate(557.0,1735.9) rotate(-90)" font-size="16.0">GRY</text>
<text class="t" transform="translate(573.4,1735.9) rotate(-90)" font-size="16.0">0.8</text>
<text class="t" transform="translate(960.5,1737.3) rotate(-90)" font-size="16.0">2755</text>
<text class="t" transform="translate(976.9,1737.3) rotate(-90)" font-size="16.0">BLK</text>
<text class="t" transform="translate(993.3,1737.3) rotate(-90)" font-size="16.0">0.8</text>
<text class="t" transform="translate(698.0,253.0) rotate(-90)" font-size="16.0">B</text>
<text class="t" transform="translate(819.5,253.6) rotate(-90)" font-size="16.0">A</text>
<text class="t" transform="translate(818.7,390.7) rotate(-90)" font-size="16.0">A</text>
<text class="t" transform="translate(819.0,573.4) rotate(-90)" font-size="16.0">A</text>
<text class="t" transform="translate(698.2,725.3) rotate(-90)" font-size="16.0">C</text>
<text class="t" transform="translate(819.4,723.8) rotate(-90)" font-size="16.0">A</text>
<text class="t" transform="translate(817.4,897.8) rotate(-90)" font-size="16.0">C</text>
<text class="t" transform="translate(697.7,1283.6) rotate(-90)" font-size="16.0">C</text>
<text class="t" transform="translate(818.3,1283.0) rotate(-90)" font-size="16.0">A</text>
<text class="t" transform="translate(818.3,1505.0) rotate(-90)" font-size="16.0">B</text>
<text class="t" transform="translate(698.0,1727.3) rotate(-90)" font-size="16.0">2</text>
<text class="t" transform="translate(818.0,1727.3) rotate(-90)" font-size="16.0">1</text>
<text class="t" transform="translate(725.5,232.2) rotate(-90)" font-size="16.0">A/C</text>
<text class="t" transform="translate(741.9,232.2) rotate(-90)" font-size="16.0">Refrigerant</text>
<text class="t" transform="translate(758.3,232.2) rotate(-90)" font-size="16.0">Pressure</text>
<text class="t" transform="translate(774.7,232.2) rotate(-90)" font-size="16.0">Sensor</text>
<text class="t" transform="translate(726.3,374.6) rotate(-90)" font-size="16.0">MAF/</text>
<text class="t" transform="translate(742.7,374.6) rotate(-90)" font-size="16.0">IAT</text>
<text class="t" transform="translate(759.1,374.6) rotate(-90)" font-size="16.0">Sensor</text>
<text class="t" transform="translate(725.2,555.0) rotate(-90)" font-size="16.0">Engine</text>
<text class="t" transform="translate(741.6,555.0) rotate(-90)" font-size="16.0">Coolant</text>
<text class="t" transform="translate(758.0,555.0) rotate(-90)" font-size="16.0">Temperature</text>
<text class="t" transform="translate(774.4,555.0) rotate(-90)" font-size="16.0">(ECT)</text>
<text class="t" transform="translate(790.8,555.0) rotate(-90)" font-size="16.0">Sensor</text>
<text class="t" transform="translate(725.2,704.0) rotate(-90)" font-size="16.0">Fuel</text>
<text class="t" transform="translate(741.6,704.0) rotate(-90)" font-size="16.0">Tank</text>
<text class="t" transform="translate(758.0,704.0) rotate(-90)" font-size="16.0">Pressure</text>
<text class="t" transform="translate(774.4,704.0) rotate(-90)" font-size="16.0">(FTP)</text>
<text class="t" transform="translate(790.8,704.0) rotate(-90)" font-size="16.0">Sensor</text>
<text class="t" transform="translate(725.2,879.3) rotate(-90)" font-size="16.0">Fuel</text>
<text class="t" transform="translate(741.6,879.3) rotate(-90)" font-size="16.0">Pump</text>
<text class="t" transform="translate(758.0,879.3) rotate(-90)" font-size="16.0">and</text>
<text class="t" transform="translate(774.4,879.3) rotate(-90)" font-size="16.0">Sender</text>
<text class="t" transform="translate(790.8,879.3) rotate(-90)" font-size="16.0">Assembly</text>
<text class="t" transform="translate(725.5,1265.0) rotate(-90)" font-size="16.0">Manifold</text>
<text class="t" transform="translate(741.9,1265.0) rotate(-90)" font-size="16.0">Absolute</text>
<text class="t" transform="translate(758.3,1265.0) rotate(-90)" font-size="16.0">Pressure</text>
<text class="t" transform="translate(774.7,1265.0) rotate(-90)" font-size="16.0">(MAP)</text>
<text class="t" transform="translate(791.1,1265.0) rotate(-90)" font-size="16.0">Sensor</text>
<text class="t" transform="translate(606.5,1578.0) rotate(-90)" font-size="16.0">Automatic</text>
<text class="t" transform="translate(621.7,1578.0) rotate(-90)" font-size="16.0">Transmission</text>
<text class="t" transform="translate(655.7,1557.0) rotate(-90)" font-size="16.0">Transmission</text>
<text class="t" transform="translate(671.8,1557.0) rotate(-90)" font-size="16.0">Fluid</text>
<text class="t" transform="translate(687.9,1557.0) rotate(-90)" font-size="16.0">Temperature</text>
<text class="t" transform="translate(704.0,1557.0) rotate(-90)" font-size="16.0">(TFT) Sensor</text>
<text class="t" transform="translate(726.0,1709.0) rotate(-90)" font-size="16.0">Engine</text>
<text class="t" transform="translate(742.4,1709.0) rotate(-90)" font-size="16.0">Oil</text>
<text class="t" transform="translate(758.8,1709.0) rotate(-90)" font-size="16.0">Pressure</text>
<text class="t" transform="translate(775.2,1709.0) rotate(-90)" font-size="16.0">Sensor</text>
<text class="t" transform="translate(341.3,555.5) rotate(-90)" font-size="16.0">5V Reference 2</text>
<text class="t" transform="translate(341.3,1579.0) rotate(-90)" font-size="16.0">5V Reference 1</text>
<text class="t" transform="translate(310.2,1090.3) rotate(-90)" font-size="16.6">CONN ID</text>
<text class="t" transform="translate(335.0,1098.9) rotate(-90)" font-size="16.5">C1=80 BLU</text>
<text class="t" transform="translate(352.0,1098.9) rotate(-90)" font-size="16.5">C2=80 GRN</text>
</g>
<text class="cap" x="834.6" y="1857.7" text-anchor="middle">Engine Controls (Part 2 of 14)</text>
<g fill="#2b2b2b" stroke="none">
<rect x="44" y="1887" width="1582" height="5"/>
<rect x="44" y="1927" width="1582" height="5"/>
<rect x="44" y="1970.3" width="1582" height="5.5"/>
<rect x="44" y="1887" width="5" height="88.8"/>
<rect x="1621.2" y="1887" width="4.8" height="88.8"/>
</g>
<text class="tx" x="53.5" y="1915.8">General Motors</text>
<circle cx="81" cy="1950.9" r="9.9" fill="url(#ball)"/>
<text class="tx" x="103.5" y="1956.9">2005 W-Series w/6.0L Gas Engine</text>
</svg>
</body></html>
